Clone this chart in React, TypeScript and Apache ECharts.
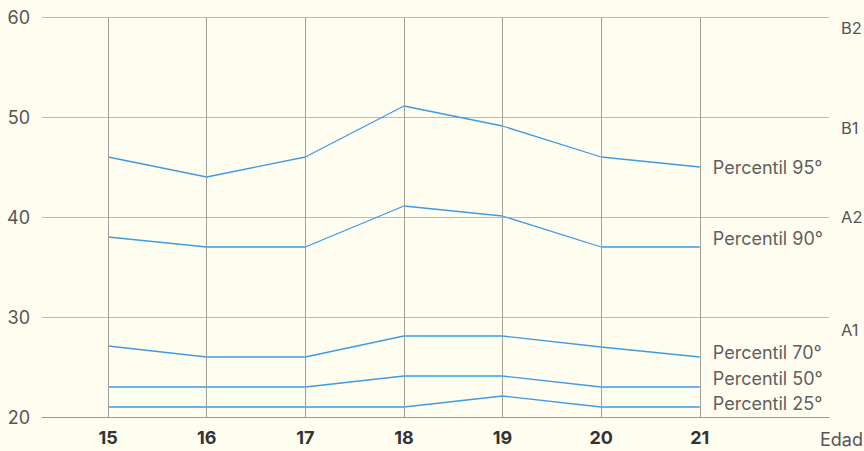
import React, { useEffect, useRef } from "react";
import * as echarts from "echarts";

const ages = [15, 16, 17, 18, 19, 20, 21];
const p95 = [46, 44, 46, 51.1, 49.1, 46, 45];
const p90 = [38, 37, 37, 41.1, 40.1, 37, 37];
const p70 = [27.1, 26, 26, 28.1, 28.1, 27, 26];
const p50 = [23, 23, 23, 24.1, 24.1, 23, 23];
const p25 = [21, 21, 21, 21, 22.1, 21, 21];
const seriesNames = ["Percentil 95°", "Percentil 90°", "Percentil 70°", "Percentil 50°", "Percentil 25°"];
const labelOffsets = [0, -9, -5, -9, -4];
const levelLabels = ["B2", "B1", "A2", "A1"];
const levelValues = [58.9, 48.9, 40, 28.7];

const FONT = "Inter, 'Noto Sans', sans-serif";
const BLUE = "#3d9be3";

export default function App() {
  const ref = useRef<HTMLDivElement>(null);
  useEffect(() => {
    if (!ref.current) return;
    const chart = echarts.init(ref.current, undefined, { renderer: "svg" });
    const all = [p95, p90, p70, p50, p25];
    const option: any = {
      animation: false,
      backgroundColor: "#fffdf0",
      grid: { left: 42, right: 35, top: 17, bottom: 34 },
      xAxis: {
        type: "value",
        min: 14.33,
        max: 22.31,
        splitLine: { show: false },
        axisTick: { show: false },
        axisLine: { show: true, lineStyle: { color: "#999", width: 1 } },
        axisLabel: {
          customValues: ages,
          margin: 11,
          color: "#333",
          fontWeight: "bold",
          fontSize: 18,
          fontFamily: FONT,
        },
      },
      yAxis: {
        type: "value",
        min: 20,
        max: 60,
        interval: 10,
        axisLine: { show: false },
        axisTick: { show: false },
        splitLine: { lineStyle: { color: "#bdbcb2", width: 1 } },
        axisLabel: { margin: 12, color: "#555", fontSize: 18, fontFamily: FONT },
      },
      series: [
        {
          type: "line",
          data: [],
          silent: true,
          markLine: {
            silent: true,
            symbol: "none",
            label: { show: false },
            lineStyle: { color: "#a09f98", width: 1, type: "solid" },
            data: ages.map((a) => ({ xAxis: a })),
          },
        },
        ...all.map((vals, i) => ({
          type: "line",
          name: seriesNames[i],
          data: vals.map((v, j) => [ages[j], v]),
          symbol: "none",
          lineStyle: { color: BLUE, width: 1.3 },
          itemStyle: { color: BLUE },
          endLabel: {
            show: true,
            formatter: seriesNames[i],
            distance: 13,
            offset: [0, labelOffsets[i]],
            color: "#5f5f5f",
            fontSize: 18,
            fontFamily: FONT,
          },
        })),
      ],
    };
    chart.setOption(option);
    const graphics: any[] = levelLabels.map((t, i) => {
      const y = chart.convertToPixel({ yAxisIndex: 0 }, levelValues[i]);
      return {
        type: "text",
        x: 841,
        y: y,
        style: { text: t, fill: "#555", fontSize: 16.5, fontFamily: FONT, verticalAlign: "middle" },
      };
    });
    graphics.push({
      type: "text",
      right: 1,
      top: 430,
      style: { text: "Edad", fill: "#555", fontSize: 18, fontFamily: FONT },
    });
    chart.setOption({ graphic: graphics });
    return () => chart.dispose();
  }, []);
  return <div ref={ref} style={{ position: "fixed", left: 0, top: 0, width: 864, height: 451 }} />;
}
